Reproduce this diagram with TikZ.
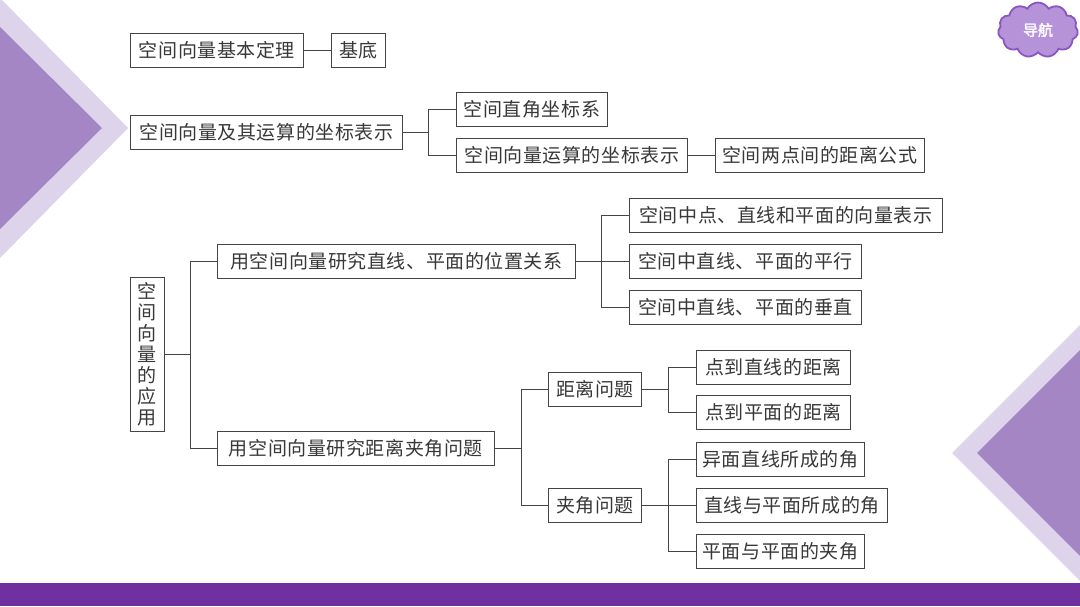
\documentclass[tikz,border=0pt]{standalone}
\usepackage{fontspec}
\newfontfamily\cjk[LetterSpace=3]{Noto Sans CJK SC}
\newfontfamily\cjkb[FakeBold=2]{Noto Sans CJK SC}
\usetikzlibrary{shapes.symbols}
\definecolor{lnc}{HTML}{454545}
\definecolor{txt}{HTML}{383838}
\definecolor{lightv}{HTML}{DDD3EA}
\definecolor{darkv}{HTML}{A486C4}
\definecolor{barv}{HTML}{7030A0}
\definecolor{cloudf}{HTML}{B692D8}
\definecolor{cloudd}{HTML}{8A55C2}
\begin{document}
\begin{tikzpicture}[x=1pt,y=-1pt,
  box/.style={draw=lnc, line width=0.8pt, fill=white, minimum height=34pt, inner sep=0pt, anchor=west,
    font=\cjk\fontsize{19}{21}\selectfont, text=txt},
  conn/.style={draw=lnc, line width=0.8pt}]
\useasboundingbox (0,0) rectangle (1080,606);
% decorations
\fill[lightv] (0,-2) -- (128,128) -- (0,258) -- cycle;
\fill[darkv] (0,27) -- (102,128) -- (0,229) -- cycle;
\fill[lightv] (1080,325) -- (952,453) -- (1080,581) -- cycle;
\fill[darkv] (1080,350) -- (977,453) -- (1080,556) -- cycle;
\fill[barv] (0,583) rectangle (1080,606);
\node[cloud, cloud puffs=11, cloud puff arc=120, aspect=1.45, minimum width=80pt, minimum height=55pt,
  fill=cloudf, draw=cloudd, line width=1.8pt, text=white, inner sep=0pt,
  font=\cjkb\fontsize{15}{15}\selectfont] (nav) at (1038,30) {导航};

% section 1
\node[box, minimum width=173pt] (a1) at (130,50) {空间向量基本定理};
\node[box, minimum width=54pt] (a2) at (331,50) {基底};
\draw[conn] (a1.east) -- (a2.west);

% section 2
\node[box, minimum width=272pt] (b1) at (130,132) {空间向量及其运算的坐标表示};
\node[box, minimum width=151pt] (b2) at (456,109) {空间直角坐标系};
\node[box, minimum width=231pt] (b3) at (456,155) {空间向量运算的坐标表示};
\node[box, minimum width=209pt] (b4) at (715,155) {空间两点间的距离公式};
\coordinate (jb) at (428,132);
\draw[conn] (b1.east) -- (jb) |- (b2.west);
\draw[conn] (jb) |- (b3.west);
\draw[conn] (b3.east) -- (b4.west);

% section 3
\node[box, minimum width=34pt, minimum height=154pt, align=center,
  font=\cjk\fontsize{19}{21}\selectfont] (c0) at (130,354) {空\\间\\向\\量\\的\\应\\用};
\node[box, minimum width=358pt] (c1) at (217,261) {用空间向量研究直线、平面的位置关系};
\node[box, minimum width=277pt] (c2) at (217,448) {用空间向量研究距离夹角问题};
\coordinate (jc) at (190,354);
\draw[conn] (c0.east) -- (jc) |- (c1.west);
\draw[conn] (jc) |- (c2.west);

\node[box, minimum width=313pt] (d1) at (629,215) {空间中点、直线和平面的向量表示};
\node[box, minimum width=232pt] (d2) at (629,261) {空间中直线、平面的平行};
\node[box, minimum width=232pt] (d3) at (629,307) {空间中直线、平面的垂直};
\coordinate (jd) at (601,261);
\draw[conn] (c1.east) -- (d2.west);
\draw[conn] (jd) |- (d1.west);
\draw[conn] (jd) |- (d3.west);

\node[box, minimum width=93pt] (e1) at (548,389) {距离问题};
\node[box, minimum width=93pt] (e2) at (548,505) {夹角问题};
\coordinate (je) at (521,448);
\draw[conn] (c2.east) -- (je) |- (e1.west);
\draw[conn] (je) |- (e2.west);

\node[box, minimum width=154pt] (f1) at (696,367) {点到直线的距离};
\node[box, minimum width=154pt] (f2) at (696,412) {点到平面的距离};
\coordinate (jf) at (668,389);
\draw[conn] (e1.east) -- (jf) |- (f1.west);
\draw[conn] (jf) |- (f2.west);

\node[box, minimum width=168pt] (g1) at (696,459) {异面直线所成的角};
\node[box, minimum width=191pt] (g2) at (696,505) {直线与平面所成的角};
\node[box, minimum width=168pt] (g3) at (696,551) {平面与平面的夹角};
\coordinate (jg) at (668,505);
\draw[conn] (e2.east) -- (g2.west);
\draw[conn] (jg) |- (g1.west);
\draw[conn] (jg) |- (g3.west);
\end{tikzpicture}
\end{document}
